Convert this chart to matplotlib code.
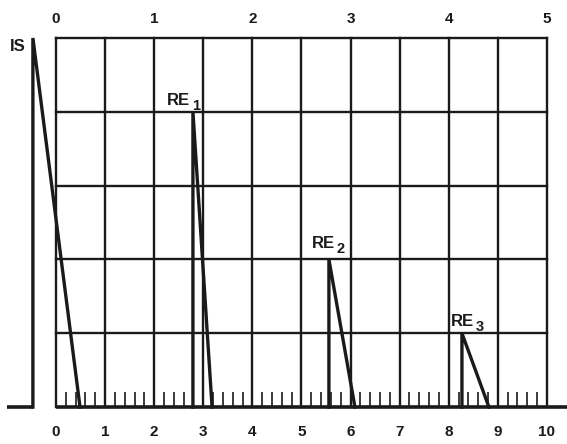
import matplotlib
matplotlib.use('Agg')
import matplotlib.pyplot as plt
from matplotlib import font_manager

# ---- data ----
bottom_ticks = list(range(0, 11))
bottom_labels = [str(v) for v in bottom_ticks]
top_positions = [0, 2, 4, 6, 8, 10]
top_labels = ['0', '1', '2', '3', '4', '5']
grid_levels = [1, 2, 3, 4, 5]

pulse_labels = ['IS', 'RE', 'RE', 'RE']
pulse_subs = ['', '1', '2', '3']
pulse_rise = [-0.47, 2.79, 5.56, 8.27]
pulse_peak = [5.0, 4.0, 2.0, 1.0]
pulse_end = [0.49, 3.18, 6.09, 8.82]
lead_in_start = -1.0
minor_step = 0.2

# ---- layout (positions, not data) ----
label_xy = [(-0.77, 4.89), (2.50, 4.16), (5.44, 2.22), (8.29, 1.165)]
sub_dx, sub_dy = 0.35, -0.08

names = {f.name for f in font_manager.fontManager.ttflist}
fam = ['Liberation Sans Narrow', 'DejaVu Sans'] if 'Liberation Sans Narrow' in names else ['Liberation Sans', 'DejaVu Sans']
plt.rcParams['font.family'] = fam

ink = '#1a1a1a'
fig = plt.figure(figsize=(5.67, 4.44), dpi=100)
fig.patch.set_facecolor('white')
ax = fig.add_axes([0, 0, 1, 1])
ax.set_xlim(-1.14, 10.41)
ax.set_ylim(-0.50, 5.515)
ax.axis('off')

# grid
for x in bottom_ticks:
    ax.plot([x, x], [0, 5], color=ink, lw=1.7, solid_capstyle='projecting')
for y in grid_levels:
    ax.plot([0, 10], [y, y], color=ink, lw=1.7, solid_capstyle='projecting')

# baseline
ax.plot([0, 10.6], [0, 0], color=ink, lw=2.6, solid_capstyle='butt')
ax.plot([lead_in_start, pulse_rise[0]], [0, 0], color=ink, lw=2.6, solid_capstyle='butt')

# minor ticks
minor = [k + j * minor_step for k in range(10) for j in range(1, 5)]
ax.vlines(minor, 0, 0.2, color=ink, lw=1.2)

# pulses
for r, p, e in zip(pulse_rise, pulse_peak, pulse_end):
    ax.plot([r, r, e], [0, p, 0], color=ink, lw=2.4, solid_joinstyle='miter')

# pulse labels
for (lx, ly), name, sub in zip(label_xy, pulse_labels, pulse_subs):
    ax.text(lx, ly, name, ha='center', va='center', fontsize=12, fontweight='bold', color=ink)
    if sub:
        ax.text(lx + sub_dx, ly + sub_dy, sub, ha='center', va='center', fontsize=10.5, fontweight='bold', color=ink)

# axis labels
for x, lab in zip(bottom_ticks, bottom_labels):
    ax.text(x, -0.34, lab, ha='center', va='center', fontsize=11, fontweight='bold', color=ink)
for x, lab in zip(top_positions, top_labels):
    ax.text(x, 5.26, lab, ha='center', va='center', fontsize=11, fontweight='bold', color=ink)

fig.savefig('out.png', dpi=100, facecolor='white')
